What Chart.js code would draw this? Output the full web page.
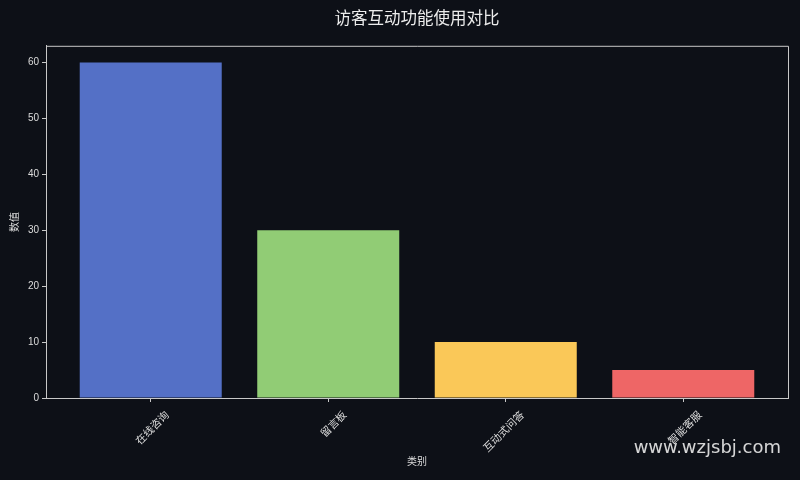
<!DOCTYPE html>
<html>
<head>
<meta charset="utf-8">
<script src="https://cdn.jsdelivr.net/npm/chart.js@4"></script>
<style>
  html, body { margin: 0; padding: 0; background: #0d1017; }
  #wrap { width: 800px; height: 480px; position: relative; }
</style>
</head>
<body>
<div id="wrap"><canvas id="c" width="800" height="480"></canvas></div>
<script>
const title = '访客互动功能使用对比';
const categories = ['在线咨询', '留言板', '互动式问答', '智能客服'];
const values = [60, 30, 10, 5];
const barColors = ['#5470c6', '#91cc75', '#fac858', '#ee6666'];
const yTicks = [0, 10, 20, 30, 40, 50, 60];
const xTitle = '类别';
const yTitle = '数值';
const watermark = 'www.wzjsbj.com';

const FONT = "'Liberation Sans', 'Noto Sans CJK SC', sans-serif";
const AXIS = '#c8c8c8';
const TXT = '#dcdcdc';

const framePlugin = {
  id: 'frame',
  afterDraw(chart) {
    const { ctx, chartArea: a } = chart;
    ctx.save();
    ctx.strokeStyle = AXIS;
    ctx.lineWidth = 1;
    ctx.beginPath();
    ctx.moveTo(a.left, a.top + 0.5);
    ctx.lineTo(a.right + 0.5, a.top + 0.5);
    ctx.lineTo(a.right + 0.5, a.bottom);
    ctx.stroke();
    ctx.font = "18px 'DejaVu Sans', sans-serif";
    ctx.fillStyle = 'rgba(235,235,235,0.9)';
    ctx.textAlign = 'right';
    ctx.textBaseline = 'middle';
    ctx.fillText(watermark, 781, 448);
    ctx.restore();
  }
};

const bgPlugin = {
  id: 'bg',
  beforeDraw(chart) {
    const { ctx } = chart;
    ctx.save();
    ctx.fillStyle = '#0d1017';
    ctx.fillRect(0, 0, chart.width, chart.height);
    ctx.restore();
  }
};

new Chart(document.getElementById('c'), {
  type: 'bar',
  data: {
    datasets: [{
      data: categories.map((c, i) => ({ x: i, y: values[i] })),
      backgroundColor: barColors,
      borderWidth: 0,
      categoryPercentage: 1,
      barPercentage: 0.8
    }]
  },
  options: {
    responsive: false,
    animation: false,
    devicePixelRatio: 1,
    layout: { padding: { left: 0, right: 12, top: 0, bottom: 0 } },
    plugins: {
      legend: { display: false },
      tooltip: { enabled: false },
      title: {
        display: true,
        fullSize: false,
        text: title,
        color: '#ececec',
        font: { family: FONT, size: 16.5, weight: 'normal' },
        padding: { top: 10, bottom: 16 }
      }
    },
    scales: {
      x: {
        type: 'linear',
        offset: false,
        min: -0.59,
        max: 3.59,
        afterBuildTicks: s => { s.ticks = categories.map((c, i) => ({ value: i })); },
        afterFit: s => { s.height = 82; },
        ticks: {
          callback: v => categories[v],
          color: TXT,
          font: { family: FONT, size: 10.5 },
          minRotation: 45,
          maxRotation: 45,
          autoSkip: false,
          padding: 7,
          labelOffset: 17
        },
        grid: { offset: false, drawOnChartArea: false, drawTicks: true, tickLength: 4, color: AXIS },
        border: { display: true, color: AXIS, width: 1 },
        title: {
          display: true, text: xTitle, color: TXT,
          font: { family: FONT, size: 10 },
          padding: { top: 12, bottom: 12 }
        }
      },
      y: {
        min: 0,
        max: 63,
        afterBuildTicks: s => { s.ticks = yTicks.map(v => ({ value: v })); },
        afterFit: s => { s.width = 46; },
        ticks: {
          color: TXT,
          font: { family: FONT, size: 10 },
          padding: 3
        },
        grid: { drawOnChartArea: false, drawTicks: true, tickLength: 4, color: AXIS },
        border: { display: true, color: AXIS, width: 1 },
        title: {
          display: true, text: yTitle, color: TXT,
          font: { family: FONT, size: 10 },
          padding: { top: 9, bottom: 0 }
        }
      }
    }
  },
  plugins: [bgPlugin, framePlugin]
});
</script>
</body>
</html>
